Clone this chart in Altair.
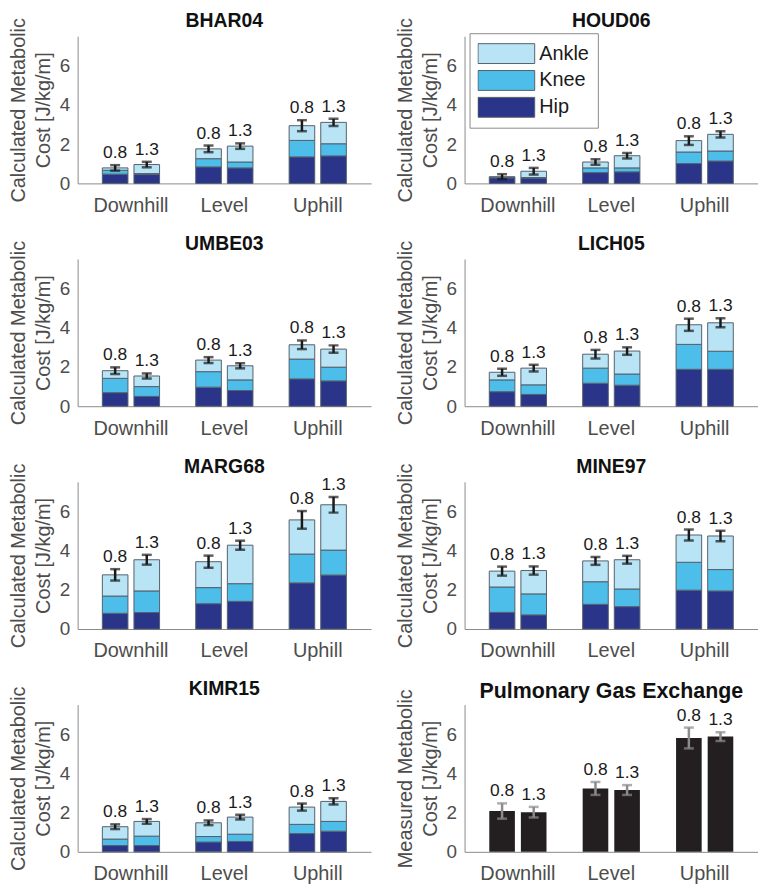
import altair as alt
import pandas as pd

conditions = ["Downhill", "Level", "Uphill"]
speeds = ["0.8", "1.3"]
joints = ["Hip", "Knee", "Ankle"]
subjects = ["BHAR04", "HOUD06", "UMBE03", "LICH05", "MARG68", "MINE97", "KIMR15"]

# order of each list: Downhill 0.8, Downhill 1.3, Level 0.8, Level 1.3, Uphill 0.8, Uphill 1.3
hip = {
    "BHAR04": [0.47, 0.45, 0.84, 0.79, 1.35, 1.40],
    "HOUD06": [0.28, 0.25, 0.55, 0.59, 1.01, 1.14],
    "UMBE03": [0.69, 0.50, 0.97, 0.80, 1.39, 1.29],
    "LICH05": [0.74, 0.60, 1.17, 1.07, 1.88, 1.88],
    "MARG68": [0.80, 0.84, 1.29, 1.41, 2.35, 2.75],
    "MINE97": [0.85, 0.72, 1.26, 1.14, 1.98, 1.94],
    "KIMR15": [0.32, 0.32, 0.50, 0.53, 0.93, 1.05],
}
knee = {
    "BHAR04": [0.20, 0.05, 0.42, 0.30, 0.84, 0.62],
    "HOUD06": [0.03, 0.05, 0.24, 0.20, 0.59, 0.51],
    "UMBE03": [0.73, 0.50, 0.79, 0.54, 1.01, 0.70],
    "LICH05": [0.60, 0.49, 0.77, 0.57, 1.27, 0.92],
    "MARG68": [0.88, 1.10, 0.82, 0.90, 1.47, 1.27],
    "MINE97": [1.29, 1.07, 1.15, 0.90, 1.42, 1.09],
    "KIMR15": [0.33, 0.48, 0.28, 0.37, 0.47, 0.50],
}
ankle = {
    "BHAR04": [0.12, 0.46, 0.50, 0.81, 0.75, 1.09],
    "HOUD06": [0.03, 0.32, 0.30, 0.62, 0.58, 0.85],
    "UMBE03": [0.39, 0.54, 0.59, 0.72, 0.73, 0.92],
    "LICH05": [0.39, 0.85, 0.71, 1.17, 1.00, 1.45],
    "MARG68": [1.08, 1.59, 1.32, 1.96, 1.74, 2.31],
    "MINE97": [0.81, 1.19, 1.06, 1.49, 1.39, 1.71],
    "KIMR15": [0.63, 0.75, 0.70, 0.87, 0.88, 1.02],
}
err = {
    "BHAR04": [0.14, 0.14, 0.17, 0.14, 0.28, 0.18],
    "HOUD06": [0.13, 0.17, 0.14, 0.14, 0.22, 0.16],
    "UMBE03": [0.17, 0.13, 0.15, 0.13, 0.22, 0.19],
    "LICH05": [0.18, 0.17, 0.22, 0.19, 0.31, 0.23],
    "MARG68": [0.29, 0.25, 0.31, 0.23, 0.45, 0.40],
    "MINE97": [0.23, 0.21, 0.20, 0.20, 0.28, 0.27],
    "KIMR15": [0.12, 0.12, 0.12, 0.12, 0.18, 0.16],
}
measured = [2.08, 2.02, 3.23, 3.15, 5.80, 5.87]
measured_err = [0.39, 0.27, 0.33, 0.25, 0.53, 0.22]

joint_colors = {"Ankle": "#b8e4f6", "Knee": "#4dbde9", "Hip": "#2a3589"}
joint_values = {"Hip": hip, "Knee": knee, "Ankle": ankle}

W, H = 295, 148
YDOM = [0, 7.5]

keys = [(c, s) for c in conditions for s in speeds]


def x_enc():
    return alt.X("cond:N", sort=conditions, title=None,
                 scale=alt.Scale(paddingInner=0.344, paddingOuter=0.243),
                 axis=alt.Axis(labelAngle=0))


def xo_enc():
    return alt.XOffset("speed:N", sort=speeds,
                       scale=alt.Scale(paddingInner=0.19, paddingOuter=0.064))


def y_enc(field, title):
    return alt.Y(field, title=title, scale=alt.Scale(domain=YDOM, nice=False),
                 axis=alt.Axis(values=[0, 2, 4, 6]))


def summary_layers(tot, color, ytitle):
    rule = alt.Chart(tot).mark_rule(color=color, strokeWidth=2.5).encode(
        x=x_enc(), xOffset=xo_enc(), y=y_enc("lo:Q", ytitle), y2="hi:Q")
    cap_lo = alt.Chart(tot).mark_tick(color=color, size=10, thickness=2.5).encode(
        x=x_enc(), xOffset=xo_enc(), y=y_enc("lo:Q", ytitle))
    cap_hi = alt.Chart(tot).mark_tick(color=color, size=10, thickness=2.5).encode(
        x=x_enc(), xOffset=xo_enc(), y=y_enc("hi:Q", ytitle))
    txt = alt.Chart(tot).mark_text(fontSize=17.5, color="#1a1a1a", baseline="bottom",
                                   dy=-3).encode(
        x=x_enc(), xOffset=xo_enc(), y=y_enc("hi:Q", ytitle), text="speed:N")
    return [rule, cap_lo, cap_hi, txt]


def subject_panel(name, show_legend=False):
    rows, trows = [], []
    for i, (c, s) in enumerate(keys):
        total = 0
        for j, jn in enumerate(joints):
            v = joint_values[jn][name][i]
            total += v
            rows.append(dict(cond=c, speed=s, joint=jn, order=j, value=v))
        e = err[name][i]
        trows.append(dict(cond=c, speed=s, total=total, lo=total - e, hi=total + e))
    seg = pd.DataFrame(rows)
    tot = pd.DataFrame(trows)
    ytitle = ["Calculated Metabolic", "Cost [J/kg/m]"]
    if show_legend:
        legend = alt.Legend(
            title=None, orient="none", legendX=5, legendY=-3,
            symbolType="M-1,-0.35H1V0.35H-1Z", symbolSize=3249,
            symbolStrokeColor="#55606b", symbolStrokeWidth=1, symbolOpacity=1,
            clipHeight=25, labelFontSize=20, labelColor="#1a1a1a",
            labelOffset=4, padding=8, strokeColor="#8a8a8a", fillColor="white",
            labelFont="Liberation Sans")
    else:
        legend = None
    bars = alt.Chart(seg).mark_bar(stroke="#55606b", strokeWidth=1, opacity=1).encode(
        x=x_enc(), xOffset=xo_enc(),
        y=alt.Y("value:Q", stack="zero", title=ytitle,
                scale=alt.Scale(domain=YDOM, nice=False),
                axis=alt.Axis(values=[0, 2, 4, 6])),
        color=alt.Color("joint:N",
                        scale=alt.Scale(domain=["Ankle", "Knee", "Hip"],
                                        range=[joint_colors["Ankle"], joint_colors["Knee"], joint_colors["Hip"]]),
                        legend=legend),
        order=alt.Order("order:Q", sort="ascending"),
    )
    return alt.layer(bars, *summary_layers(tot, "#1a1a1a", ytitle)).properties(
        width=W, height=H,
        title=alt.TitleParams(name, fontSize=19.5, frame="group", dy=18))


def measured_panel():
    df = pd.DataFrame([dict(cond=c, speed=s, value=measured[i],
                            lo=measured[i] - measured_err[i], hi=measured[i] + measured_err[i])
                       for i, (c, s) in enumerate(keys)])
    ytitle = ["Measured Metabolic", "Cost [J/kg/m]"]
    bars = alt.Chart(df).mark_bar(color="#231f20").encode(
        x=x_enc(), xOffset=xo_enc(), y=y_enc("value:Q", ytitle))
    return alt.layer(bars, *summary_layers(df, "#8c8c8c", ytitle)).properties(
        width=W, height=H,
        title=alt.TitleParams("Pulmonary Gas Exchange", fontSize=21.5, frame="group", dy=18))


panels = [subject_panel(s, show_legend=(s == "HOUD06")) for s in subjects]
panels.append(measured_panel())

chart = alt.concat(*panels, columns=2, spacing={"row": 76, "column": 94},
                   bounds="flush").resolve_scale(color="independent").resolve_legend(
    color="independent").properties(padding=0).configure(
    font="Liberation Sans"
).configure_view(stroke=None).configure_axis(
    grid=False, ticks=False, domainColor="#8a8a8a", domainWidth=1,
    labelColor="#4d4d4d", titleColor="#4d4d4d", labelFont="Liberation Sans",
    titleFont="Liberation Sans"
).configure_axisX(
    labelFontSize=20, labelPadding=12
).configure_axisY(
    labelFontSize=19, labelPadding=8, titleFontSize=20, titleFontWeight="normal",
    titleLineHeight=25, titlePadding=6
).configure_title(
    fontWeight="bold", color="#111111", offset=4, font="Liberation Sans"
)

chart.save("out.html", embed_options={"renderer": "svg", "actions": False})
